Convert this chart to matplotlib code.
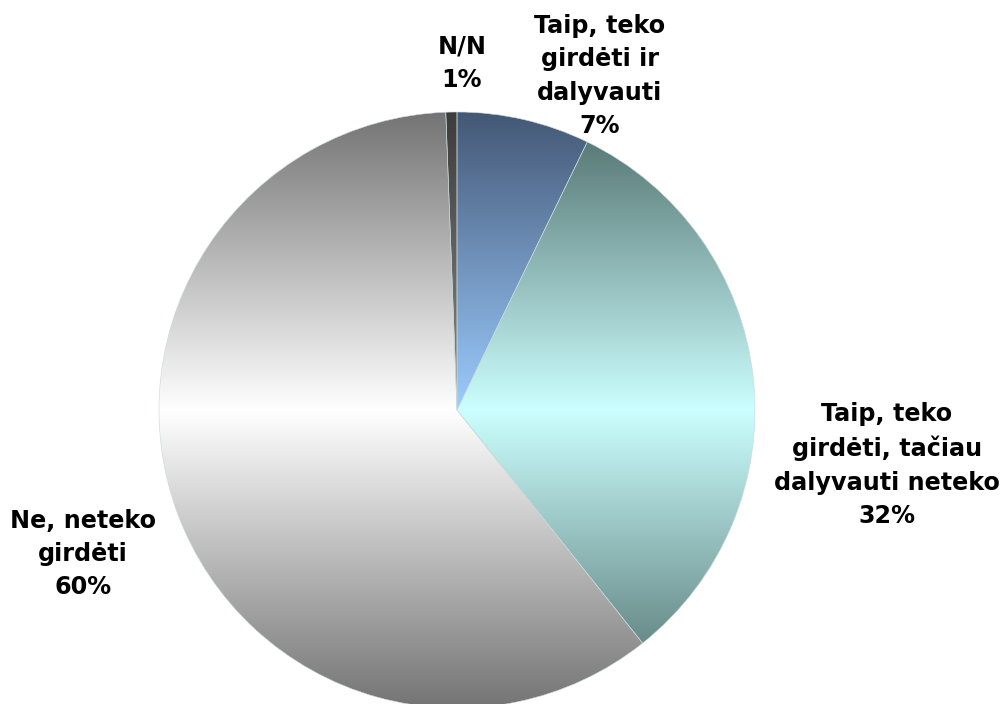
import numpy as np
import matplotlib
matplotlib.use("Agg")
import matplotlib.pyplot as plt
from matplotlib.colors import to_rgb

# =========================
# DATA
# =========================
labels = ["Taip, teko\ngirdėti ir\ndalyvauti",
          "Taip, teko\ngirdėti, tačiau\ndalyvauti neteko",
          "Ne, neteko\ngirdėti",
          "N/N"]
values = [7.2, 32.1, 60.1, 0.6]
edge_colors = ["#445876", "#4d6c69", "#747474", "#3c3c3c"]
mid_colors = ["#9cccff", "#ccffff", "#ffffff", "#8a8a8a"]
# label centres (pixels, from top-left)
label_pos = [(600, 76), (887, 465), (83, 554), (462, 63)]

# =========================
# FIGURE
# =========================
W, H = 1003, 704
fig = plt.figure(figsize=(W / 100, H / 100), dpi=100)
ax = fig.add_axes([0, 0, 1, 1])

cx, cy, r = 457, H - 410, 298

wedges, _ = ax.pie(values, startangle=90, counterclock=False,
                   center=(cx, cy), radius=r, frame=True,
                   wedgeprops=dict(facecolor="none", edgecolor="none"))

# vertical "reflected" gradient: dark at top/bottom, light at centre
ys = np.linspace(cy - r, cy + r, 400)
t = np.abs(ys - cy) / r
for w, ec, mc in zip(wedges, edge_colors, mid_colors):
    e = np.array(to_rgb(ec))
    m = np.array(to_rgb(mc))
    img = m[None, :] + (e - m)[None, :] * t[:, None]
    img = np.repeat(img[:, None, :], 2, axis=1)
    im = ax.imshow(img, extent=(cx - r, cx + r, cy - r, cy + r),
                   origin="lower", aspect="auto", interpolation="bilinear",
                   zorder=1)
    im.set_clip_path(w)

# thin light separators
ax.pie(values, startangle=90, counterclock=False, center=(cx, cy), radius=r,
       frame=True,
       wedgeprops=dict(facecolor="none", edgecolor="#c8d8d8", linewidth=0.4))
ax.set_xlim(0, W)
ax.set_ylim(0, H)
ax.set_aspect("equal")
ax.axis("off")

for lab, v, (x, y) in zip(labels, values, label_pos):
    ax.text(x, H - y, f"{lab}\n{v:.0f}%", ha="center", va="center",
            fontsize=17.2, fontweight="bold", family="DejaVu Sans",
            linespacing=1.5, color="black", zorder=5)

fig.savefig("out.png", dpi=100)
